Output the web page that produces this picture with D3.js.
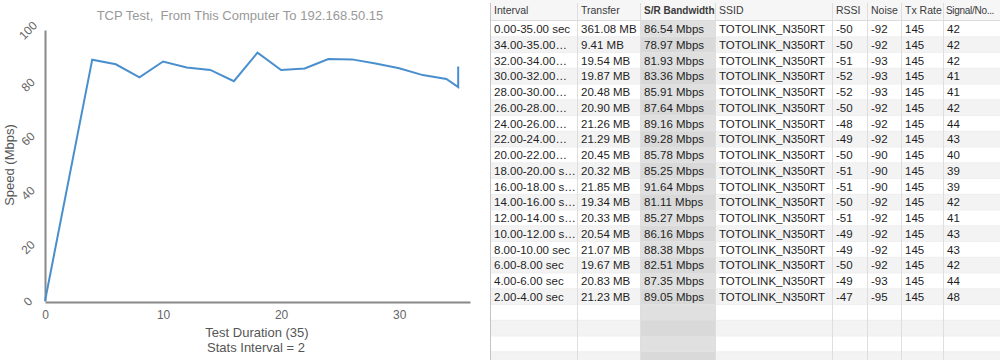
<!DOCTYPE html>
<html>
<head>
<meta charset="utf-8">
<script src="https://cdn.jsdelivr.net/npm/d3@7"></script>
<style>
  body { margin: 0; background: #fff; }
  svg { display: block; font-family: "Liberation Sans", Arial, sans-serif; }
  text { white-space: pre; }
</style>
</head>
<body>
<div id="chart-container"></div>
<script>
// Line chart data (end of each interval, Mbps)
const lineTimes = [0, 4, 6, 8, 10, 12, 14, 16, 18, 20, 22, 24, 26, 28, 30, 32, 34, 35, 35];
const lineSpeeds = [0, 89.05, 87.35, 82.51, 88.38, 86.16, 85.27, 81.11, 91.64, 85.25, 85.78, 89.28, 89.16, 87.64, 85.91, 83.36, 81.93, 78.97, 86.54];
const yTicks = [0, 20, 40, 60, 80, 100];
const xTicks = [0, 10, 20, 30];

// Table data
const headers = ["Interval", "Transfer", "S/R Bandwidth", "SSID", "RSSI", "Noise", "Tx Rate", "Signal/No..."];
const intervals = ["0.00-35.00 sec", "34.00-35.00\u2026", "32.00-34.00\u2026", "30.00-32.00\u2026", "28.00-30.00\u2026",
  "26.00-28.00\u2026", "24.00-26.00\u2026", "22.00-24.00\u2026", "20.00-22.00\u2026", "18.00-20.00 s\u2026",
  "16.00-18.00 s\u2026", "14.00-16.00 s\u2026", "12.00-14.00 s\u2026", "10.00-12.00 s\u2026", "8.00-10.00 sec",
  "6.00-8.00 sec", "4.00-6.00 sec", "2.00-4.00 sec"];
const transfers = ["361.08 MB", "9.41 MB", "19.54 MB", "19.87 MB", "20.48 MB", "20.90 MB", "21.26 MB", "21.29 MB",
  "20.45 MB", "20.32 MB", "21.85 MB", "19.34 MB", "20.33 MB", "20.54 MB", "21.07 MB", "19.67 MB", "20.83 MB", "21.23 MB"];
const bandwidths = ["86.54 Mbps", "78.97 Mbps", "81.93 Mbps", "83.36 Mbps", "85.91 Mbps", "87.64 Mbps", "89.16 Mbps",
  "89.28 Mbps", "85.78 Mbps", "85.25 Mbps", "91.64 Mbps", "81.11 Mbps", "85.27 Mbps", "86.16 Mbps", "88.38 Mbps",
  "82.51 Mbps", "87.35 Mbps", "89.05 Mbps"];
const ssids = intervals.map(() => "TOTOLINK_N350RT");
const rssi = [-50, -50, -51, -52, -52, -50, -48, -49, -50, -51, -51, -50, -51, -49, -49, -50, -49, -47];
const noise = [-92, -92, -93, -93, -93, -92, -92, -92, -90, -90, -90, -92, -92, -92, -92, -92, -93, -95];
const txRate = [145, 145, 145, 145, 145, 145, 145, 145, 145, 145, 145, 145, 145, 145, 145, 145, 145, 145];
const snr = [42, 42, 42, 41, 41, 42, 44, 43, 40, 39, 39, 42, 41, 43, 43, 42, 44, 48];

const W = 1000, H = 360;
const svg = d3.select("#chart-container").append("svg")
  .attr("width", W)
  .attr("height", H);

// ---- Line chart ----
const x = d3.scaleLinear().domain([0, 36]).range([45, 470]);
const y = d3.scaleLinear().domain([0, 100]).range([301, 30]);

svg.append("text")
  .attr("x", 240)
  .attr("y", 15)
  .attr("dy", "0.35em")
  .attr("text-anchor", "middle")
  .attr("fill", "#999")
  .style("font-size", "13px")
  .text("TCP Test,  From This Computer To 192.168.50.15");

const yAxis = svg.append("g")
  .attr("transform", "translate(45,0)")
  .call(d3.axisLeft(y).tickValues(yTicks).tickSize(0).tickSizeOuter(0));
yAxis.select(".domain").attr("stroke", "#888").attr("stroke-width", 2);
yAxis.selectAll(".tick text")
  .attr("x", -17)
  .attr("dy", "0.35em")
  .attr("text-anchor", "middle")
  .attr("transform", "rotate(-45,-17,0)")
  .attr("fill", "#666")
  .style("font-size", "12px")
  .style("font-family", "'Liberation Sans', Arial, sans-serif");

const xAxis = svg.append("g")
  .attr("transform", "translate(0,302)")
  .call(d3.axisBottom(x).tickValues(xTicks).tickSize(0).tickSizeOuter(0).tickPadding(8));
xAxis.select(".domain").attr("stroke", "#888").attr("stroke-width", 2);
xAxis.selectAll(".tick text")
  .attr("fill", "#666")
  .style("font-size", "12px")
  .style("font-family", "'Liberation Sans', Arial, sans-serif");

svg.append("text")
  .attr("transform", "translate(9,165) rotate(-90)")
  .attr("dy", "0.35em")
  .attr("text-anchor", "middle")
  .attr("fill", "#555")
  .style("font-size", "13px")
  .text("Speed (Mbps)");

svg.append("text")
  .attr("x", 257)
  .attr("y", 332)
  .attr("dy", "0.35em")
  .attr("text-anchor", "middle")
  .attr("fill", "#555")
  .style("font-size", "13px")
  .text("Test Duration (35)");

svg.append("text")
  .attr("x", 256)
  .attr("y", 347)
  .attr("dy", "0.35em")
  .attr("text-anchor", "middle")
  .attr("fill", "#555")
  .style("font-size", "13px")
  .text("Stats Interval = 2");

const line = d3.line()
  .x((d, i) => x(lineTimes[i]))
  .y(d => y(d));

svg.append("path")
  .datum(lineSpeeds)
  .attr("fill", "none")
  .attr("stroke", "#4a8fcd")
  .attr("stroke-width", 2)
  .attr("stroke-linejoin", "miter")
  .attr("d", line);

// ---- Table ----
const colX = [490, 577, 640, 715, 832, 867, 901, 943, 1000];
const headerH = 21;
const rowH = 15.75;
const nRows = Math.ceil((H - headerH) / rowH);
const columns = [intervals, transfers, bandwidths, ssids, rssi, noise, txRate, snr];
const sortedCol = 2;

const table = svg.append("g");

// header
table.append("rect")
  .attr("x", colX[0]).attr("y", 0)
  .attr("width", W - colX[0]).attr("height", headerH)
  .attr("fill", "#f6f6f6");
table.append("line")
  .attr("x1", colX[0]).attr("x2", W)
  .attr("y1", headerH - 0.5).attr("y2", headerH - 0.5)
  .attr("stroke", "#dcdcdc");

// rows
const rows = d3.range(nRows);
table.selectAll(".row-bg")
  .data(rows)
  .enter().append("rect")
  .attr("class", "row-bg")
  .attr("x", colX[0])
  .attr("y", d => headerH + d * rowH)
  .attr("width", W - colX[0])
  .attr("height", rowH)
  .attr("fill", d => d % 2 ? "#f3f3f3" : "#fff");

table.selectAll(".row-line")
  .data(rows)
  .enter().append("line")
  .attr("class", "row-line")
  .attr("x1", colX[0]).attr("x2", W)
  .attr("y1", d => headerH + (d + 1) * rowH)
  .attr("y2", d => headerH + (d + 1) * rowH)
  .attr("stroke", "#ececec")
  .attr("stroke-width", 0.8);

// sorted column shading
table.selectAll(".sort-bg")
  .data(rows)
  .enter().append("rect")
  .attr("class", "sort-bg")
  .attr("x", colX[sortedCol])
  .attr("y", d => headerH + d * rowH)
  .attr("width", colX[sortedCol + 1] - colX[sortedCol])
  .attr("height", rowH)
  .attr("fill", d => d % 2 ? "#d9d9d9" : "#e0e0e0");

// column separators
table.selectAll(".col-line")
  .data(colX.slice(0, -1))
  .enter().append("line")
  .attr("class", "col-line")
  .attr("x1", d => d + 0.5).attr("x2", d => d + 0.5)
  .attr("y1", 3).attr("y2", H)
  .attr("stroke", (d, i) => i === 0 ? "#c4c4c4" : "#dedede");

// header labels
table.selectAll(".head")
  .data(headers)
  .enter().append("text")
  .attr("class", "head")
  .attr("x", (d, i) => colX[i] + (i === headers.length - 1 ? 3 : 4))
  .attr("y", headerH / 2)
  .attr("dy", "0.35em")
  .attr("fill", "#3a3a3a")
  .style("font-size", (d, i) => i === sortedCol || i === headers.length - 1 ? "10px" : "10.5px")
  .style("letter-spacing", (d, i) => i === headers.length - 1 ? "-0.3px" : null)
  .style("font-weight", (d, i) => i === sortedCol ? "bold" : "normal")
  .text(d => d);

// cell text
columns.forEach((col, ci) => {
  table.selectAll(".cell-" + ci)
    .data(col)
    .enter().append("text")
    .attr("class", "cell-" + ci)
    .attr("x", colX[ci] + 4)
    .attr("y", (d, i) => headerH + i * rowH + rowH / 2)
    .attr("dy", "0.36em")
    .attr("fill", "#1e1e1e")
    .style("font-size", "11.5px")
    .text(d => d);
});
</script>
</body>
</html>
